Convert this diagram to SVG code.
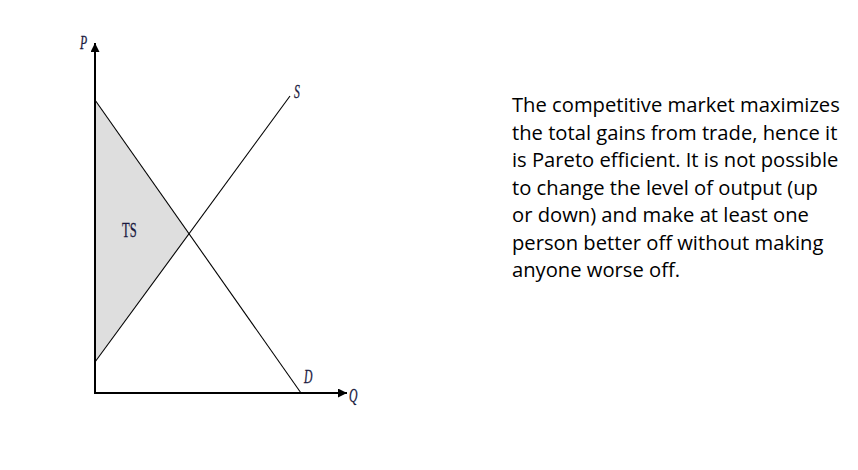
<svg xmlns="http://www.w3.org/2000/svg" width="858" height="470" viewBox="0 0 858 470">
<style>
.axis{stroke:#000;stroke-width:2;fill:none}
.curve{stroke:#000;stroke-width:1.1;fill:none}
.lbl{font-family:"Liberation Serif",serif;font-style:italic;font-size:18px;fill:#1a1a40;stroke:#1a1a40;stroke-width:0.3}
.ts{font-family:"Liberation Serif",serif;font-size:21px;fill:#1a1a40;stroke:#1a1a40;stroke-width:0.3}
.body{font-family:"Open Sans","Liberation Sans",sans-serif;font-size:20.2px;fill:#000}
</style>
<defs>
<marker id="arr" viewBox="0 0 10 10" refX="10" refY="5" markerWidth="5" markerHeight="4.5" orient="auto" markerUnits="strokeWidth">
<path d="M0,0 L10,5 L0,10 z" fill="#000"/>
</marker>
</defs>
<rect width="858" height="470" fill="#fff"/>
<g id="ts-area">
<polygon points="95,100 189,234 95,362" fill="#dedede"/>
<text class="ts" transform="translate(122,237) scale(0.6,1)">TS</text>
</g>
<g id="connectors">
<line class="axis" x1="95" y1="393" x2="95" y2="43" marker-end="url(#arr)"/>
<line class="axis" x1="94" y1="393" x2="347" y2="393" marker-end="url(#arr)"/>
<line class="curve" x1="95" y1="100" x2="301" y2="393"/>
<line class="curve" x1="95" y1="362" x2="290" y2="96"/>
</g>
<g id="labels">
<text class="lbl" transform="translate(80,49) scale(0.65,1)">P</text>
<text class="lbl" transform="translate(294,98) scale(0.65,1)">S</text>
<text class="lbl" transform="translate(304,383) scale(0.65,1)">D</text>
<text class="lbl" transform="translate(349,402) scale(0.65,1)">Q</text>
</g>
<g id="description">
<text class="body" x="512" y="112">The competitive market maximizes</text>
<text class="body" x="512" y="139.5">the total gains from trade, hence it</text>
<text class="body" x="512" y="167">is Pareto efficient. It is not possible</text>
<text class="body" x="512" y="194.5">to change the level of output (up</text>
<text class="body" x="512" y="222">or down) and make at least one</text>
<text class="body" x="512" y="249.5">person better off without making</text>
<text class="body" x="512" y="277">anyone worse off.</text>
</g>
</svg>
